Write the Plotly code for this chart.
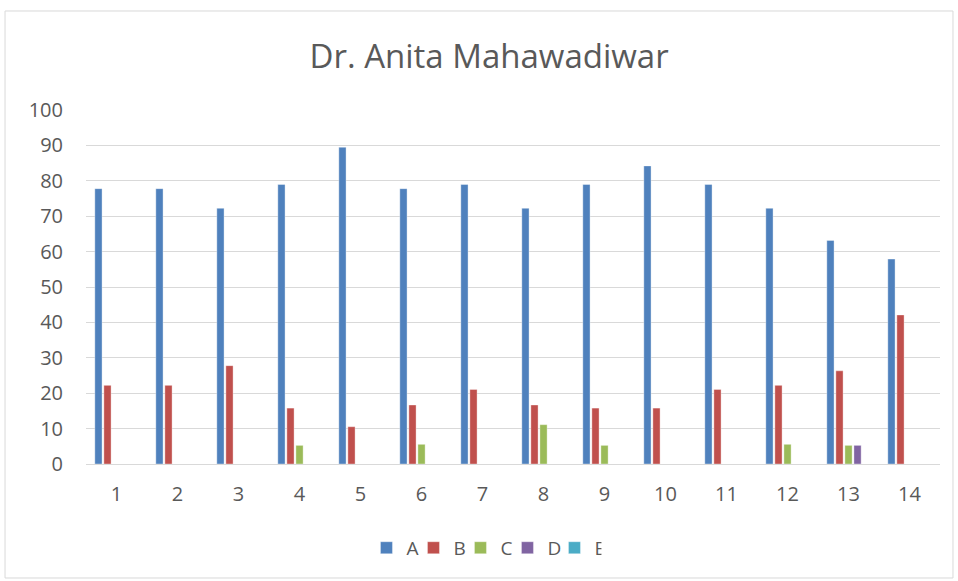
import plotly.graph_objects as go

# Chart data
categories = [str(i) for i in range(1, 15)]
series_names = ['A', 'B', 'C', 'D', 'E']
values_a = [77.78, 77.78, 72.22, 78.95, 89.47, 77.78, 78.95, 72.22, 78.95, 84.21, 78.95, 72.22, 63.16, 57.89]
values_b = [22.22, 22.22, 27.78, 15.79, 10.53, 16.67, 21.05, 16.67, 15.79, 15.79, 21.05, 22.22, 26.32, 42.11]
values_c = [0, 0, 0, 5.26, 0, 5.56, 0, 11.11, 5.26, 0, 0, 5.56, 5.26, 0]
values_d = [0, 0, 0, 0, 0, 0, 0, 0, 0, 0, 0, 0, 5.26, 0]
values_e = [0] * 14
y_ticks = list(range(0, 101, 10))

colors = ['#4F81BD', '#C0504D', '#9BBB59', '#8064A2', '#4BACC6']
text_color = '#595959'
font_family = 'Open Sans, Liberation Sans, sans-serif'

fig = go.Figure()
for name, vals, col in zip(series_names, [values_a, values_b, values_c, values_d, values_e], colors):
    fig.add_trace(go.Bar(
        x=categories,
        y=vals,
        name=name,
        marker=dict(color=col, line=dict(color='rgba(255,255,255,0.6)', width=0.6)),
    ))

fig.update_layout(
    width=958,
    height=581,
    paper_bgcolor='white',
    plot_bgcolor='white',
    barmode='group',
    bargap=0.26,
    bargroupgap=0.2,
    margin=dict(l=86, r=18, t=110, b=117),
    title=dict(
        text='Dr. Anita Mahawadiwar',
        xref='paper', x=0.472, xanchor='center',
        y=1 - 56 / 581, yanchor='middle',
        font=dict(family=font_family, size=33, color=text_color),
    ),
    font=dict(family=font_family, size=20, color=text_color),
    xaxis=dict(
        type='category',
        showgrid=False,
        showline=True,
        linecolor='#D9D9D9',
        linewidth=1,
        ticks='',
        ticklabelstandoff=12,
        tickfont=dict(size=20, color=text_color),
    ),
    yaxis=dict(
        range=[0, 100],
        tickvals=y_ticks,
        gridcolor='#D9D9D9',
        gridwidth=1,
        zeroline=False,
        showline=False,
        ticks='',
        ticklabelstandoff=22,
        tickfont=dict(size=20, color=text_color),
    ),
    legend=dict(
        orientation='h',
        x=0.466, xanchor='center',
        y=-0.237, yanchor='middle',
        font=dict(size=19, color=text_color),
        traceorder='normal',
        itemwidth=30,
        entrywidth=2,
    ),
    showlegend=True,
)

# Outer chart border
fig.add_shape(
    type='rect', xref='paper', yref='paper',
    x0=-0.0948, x1=1.0152, y0=-0.322, y1=1.2797,
    line=dict(color='#D9D9D9', width=1),
    fillcolor='rgba(0,0,0,0)',
    layer='below',
)

fig.write_html('out.html', config={'displayModeBar': False},
               post_script="document.body.style.margin='0';")
